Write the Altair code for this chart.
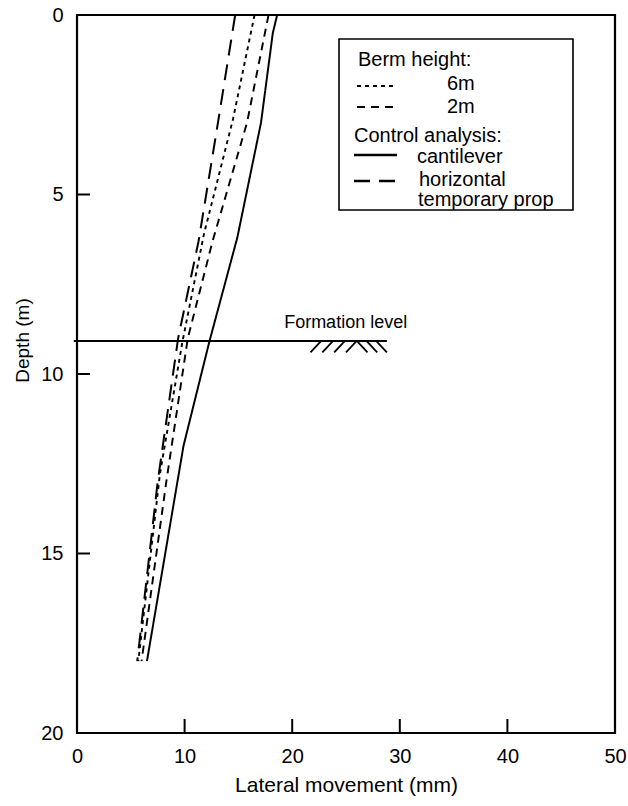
import altair as alt
import pandas as pd

FONT = "Liberation Sans"

# Lateral movement profiles (depth in m, movement in mm)
depth_cantilever = [0.0, 0.5, 3.0, 6.2, 9.1, 12.0, 18.0]
move_cantilever = [18.6, 18.2, 17.1, 14.9, 12.3, 9.9, 6.5]

depth_prop = [0.0, 3.0, 6.3, 9.0, 13.0, 18.0]
move_prop = [14.7, 13.1, 11.3, 9.4, 7.5, 5.6]

depth_berm6 = [0.0, 2.9, 6.1, 9.1, 12.8, 18.0]
move_berm6 = [16.5, 14.5, 11.8, 9.8, 7.7, 5.7]

depth_berm2 = [0.0, 3.0, 6.3, 9.0, 13.0, 18.0]
move_berm2 = [17.8, 15.8, 12.6, 10.3, 8.3, 6.0]

series_names = ["6m", "2m", "cantilever", "horizontal temporary prop"]
series_dash = [[4, 4], [8, 6], [1, 0], [16, 9]]
series_width = [1.9, 2.0, 2.3, 2.3]

# Formation level and ground hatching
formation_depth = 9.08
formation_x = [-0.3, 28.8]
hatch_depth = [9.08, 9.40]
hatch_x_top = [22.7, 23.8, 24.9, 26.0, 26.0, 26.9, 27.8]
hatch_x_bottom = [21.7, 22.8, 23.9, 25.0, 27.0, 27.9, 28.8]

x_ticks = [10, 20, 30, 40]
y_ticks = [5, 10, 15]

rows = []
for name, ds, xs in [
    ("6m", depth_berm6, move_berm6),
    ("2m", depth_berm2, move_berm2),
    ("cantilever", depth_cantilever, move_cantilever),
    ("horizontal temporary prop", depth_prop, move_prop),
]:
    for i, (d, x) in enumerate(zip(ds, xs)):
        rows.append({"series": name, "depth": d, "move": x, "idx": i})
profiles = pd.DataFrame(rows)

W, H = 538, 718

x_scale = alt.Scale(domain=[0, 50], nice=False)
y_scale = alt.Scale(domain=[0, 20], reverse=True, nice=False)

x_enc = alt.X(
    "move:Q", scale=x_scale,
    axis=alt.Axis(
        title="Lateral movement (mm)", values=[0, 10, 20, 30, 40, 50],
        ticks=False, tickSize=0, domain=False, grid=False, labelFlush=False,
        labelPadding=13, labelFontSize=20, labelFont=FONT, labelColor="black",
        titleFontSize=21, titleFont=FONT, titleFontWeight="normal", titleColor="black",
        titleY=52, titleBaseline="middle",
    ),
)
y_enc = alt.Y(
    "depth:Q", scale=y_scale,
    axis=alt.Axis(
        title="Depth (m)", values=[0, 5, 10, 15, 20],
        ticks=False, tickSize=0, domain=False, grid=False, labelFlush=False,
        labelPadding=14, labelFontSize=20, labelFont=FONT, labelColor="black",
        titleFontSize=19, titleFont=FONT, titleFontWeight="normal", titleColor="black",
        titleAngle=270, titleX=-55, titleY=325, titleBaseline="middle", titleAlign="center",
    ),
)

lines = alt.Chart(profiles).mark_line(color="black").encode(
    x=x_enc,
    y=y_enc,
    order="idx:Q",
    strokeDash=alt.StrokeDash("series:N", scale=alt.Scale(domain=series_names, range=series_dash), legend=None),
    strokeWidth=alt.StrokeWidth("series:N", scale=alt.Scale(domain=series_names, range=series_width), legend=None),
)

formation = alt.Chart(pd.DataFrame({"x1": [formation_x[0]], "x2": [formation_x[1]], "d": [formation_depth]})).mark_rule(
    color="black", strokeWidth=2
).encode(x=alt.X("x1:Q", scale=x_scale), x2="x2:Q", y=alt.Y("d:Q", scale=y_scale))

hatch = alt.Chart(pd.DataFrame({
    "xt": hatch_x_top, "xb": hatch_x_bottom,
    "dt": [hatch_depth[0]] * len(hatch_x_top), "db": [hatch_depth[1]] * len(hatch_x_top),
})).mark_rule(color="black", strokeWidth=1.8).encode(
    x=alt.X("xt:Q", scale=x_scale), x2="xb:Q", y=alt.Y("dt:Q", scale=y_scale), y2="db:Q"
)

formation_label = alt.Chart(pd.DataFrame({"x": [19.25], "d": [8.73], "t": ["Formation level"]})).mark_text(
    align="left", baseline="alphabetic", font=FONT, fontSize=18, color="black"
).encode(x=alt.X("x:Q", scale=x_scale), y=alt.Y("d:Q", scale=y_scale), text="t:N")

# Inward-pointing tick marks
xt = alt.Chart(pd.DataFrame({"v": x_ticks})).mark_rule(color="black", strokeWidth=2).encode(
    x=alt.X("v:Q", scale=x_scale), y=alt.value(H), y2=alt.value(H - 14)
)
yt = alt.Chart(pd.DataFrame({"v": y_ticks})).mark_rule(color="black", strokeWidth=2).encode(
    y=alt.Y("v:Q", scale=y_scale), x=alt.value(0), x2=alt.value(13)
)

# Key box
one = pd.DataFrame({"k": [0]})
key_box = alt.Chart(one).mark_rect(fill="white", stroke="black", strokeWidth=1.6).encode(
    x=alt.value(262), x2=alt.value(496), y=alt.value(24), y2=alt.value(195)
)
key_texts = [
    ("Berm height:", 281, 51),
    ("6m", 370, 75),
    ("2m", 370, 98),
    ("Control analysis:", 277, 127),
    ("cantilever", 340, 148),
    ("horizontal", 342, 171),
    ("temporary prop", 341, 191),
]
key_layers = [key_box]
for label, lx, ly in key_texts:
    key_layers.append(
        alt.Chart(one).mark_text(align="left", baseline="alphabetic", font=FONT, fontSize=20, color="black").encode(
            x=alt.value(lx), y=alt.value(ly), text=alt.value(label)
        )
    )
key_samples = [
    (series_dash[0], series_width[0], 280, 318, 71),
    (series_dash[1], series_width[1], 280, 316, 92),
    (series_dash[2], series_width[2], 277, 320, 140),
    (series_dash[3], series_width[3], 277, 318, 166),
]
for dash, sw, xa, xb, yy in key_samples:
    key_layers.append(
        alt.Chart(one).mark_rule(color="black", strokeWidth=sw, strokeDash=dash).encode(
            x=alt.value(xa), x2=alt.value(xb), y=alt.value(yy)
        )
    )

chart = alt.layer(
    lines, formation, hatch, formation_label, xt, yt, *key_layers
).properties(
    width=W, height=H,
    background="white",
    autosize=alt.AutoSizeParams(type="none"),
    padding={"left": 77, "top": 15, "right": 628 - 77 - W, "bottom": 806 - 15 - H},
).configure_view(
    stroke="black", strokeWidth=2.2
)

chart.save("out.html", embed_options={"renderer": "svg", "actions": False})
